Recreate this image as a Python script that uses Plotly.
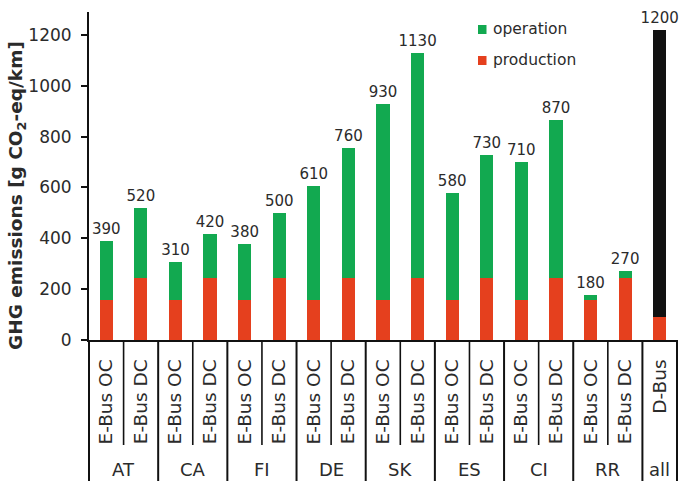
import plotly.graph_objects as go

# ---- data ----
groups = ["AT", "CA", "FI", "DE", "SK", "ES", "CI", "RR", "all"]
group_subs = [
    ["E-Bus OC", "E-Bus DC"], ["E-Bus OC", "E-Bus DC"], ["E-Bus OC", "E-Bus DC"],
    ["E-Bus OC", "E-Bus DC"], ["E-Bus OC", "E-Bus DC"], ["E-Bus OC", "E-Bus DC"],
    ["E-Bus OC", "E-Bus DC"], ["E-Bus OC", "E-Bus DC"], ["D-Bus"],
]
production = [157, 243, 157, 243, 157, 243, 157, 243, 157, 243, 157, 243, 157, 243, 157, 244, 92]
operation = [233, 277, 148, 175, 221, 257, 449, 513, 772, 887, 422, 485, 545, 624, 20, 26, 1126]
total_labels = ["390", "520", "310", "420", "380", "500", "610", "760", "930", "1130",
                "580", "730", "710", "870", "180", "270", "1200"]
y_ticks = [0, 200, 400, 600, 800, 1000, 1200]

GREEN = "#12a950"
RED = "#e5401e"
BLACK = "#111111"
FONT = "DejaVu Sans"
TXT = "#2b2b2b"

# category keys
keys, sub_names, group_of = [], [], []
for g, subs in zip(groups, group_subs):
    for s in subs:
        keys.append(f"{g}|{s}")
        sub_names.append(s)
        group_of.append(g)
n = len(keys)
op_colors = [BLACK if g == "all" else GREEN for g in group_of]

W, H = 679, 481
ml, mr, mt, mb = 89, 2, 12, 141
plot_h = H - mt - mb

fig = go.Figure()
fig.add_bar(x=keys, y=production, marker=dict(color=RED, line=dict(width=0)),
            name="production", showlegend=False)
fig.add_bar(x=keys, y=operation, marker=dict(color=op_colors, line=dict(width=0)),
            name="operation", showlegend=False,
            text=total_labels, textposition="outside", cliponaxis=False,
            constraintext="none",
            textfont=dict(family=FONT, size=15, color=TXT))

def py(px):  # pixel y (from top of figure) -> paper y
    return (H - mb - px) / plot_h

def pxx(px):  # pixel x -> paper x
    return (px - ml) / (W - ml - mr)

shapes = []
annotations = []
# table lines below the axis
for xb in (0, 1):
    shapes.append(dict(type="line", xref="paper", yref="paper", x0=xb, x1=xb,
                       y0=0, y1=py(H + 2), line=dict(color="#111", width=2)))
idx = 0
for gi, (g, subs) in enumerate(zip(groups, group_subs)):
    start = idx
    for si, s in enumerate(subs):
        if si < len(subs) - 1:
            xb = (idx + 1) / n
            shapes.append(dict(type="line", xref="paper", yref="paper", x0=xb, x1=xb,
                               y0=0, y1=py(445), line=dict(color="#111", width=1.6)))
        idx += 1
    end = idx
    annotations.append(dict(x=(start + end) / 2 / n, xref="paper", y=py(469), yref="paper",
                            text=g, showarrow=False, xanchor="center", yanchor="middle",
                            font=dict(family=FONT, size=18, color=TXT)))
    if gi < len(groups) - 1:
        xb = end / n
        shapes.append(dict(type="line", xref="paper", yref="paper", x0=xb, x1=xb,
                           y0=0, y1=py(H + 2), line=dict(color="#111", width=2)))

# y-axis title
annotations.append(dict(x=pxx(17), xref="paper", y=py(196), yref="paper",
                        text="<b>GHG emissions [g CO<sub>2</sub>-eq/km]</b>",
                        textangle=-90, showarrow=False, xanchor="center", yanchor="middle",
                        font=dict(family=FONT, size=18.5, color=TXT)))

# legend (drawn manually)
for name, col, cy in [("operation", GREEN, 29.5), ("production", RED, 60.5)]:
    shapes.append(dict(type="rect", xref="paper", yref="paper",
                       x0=pxx(478), x1=pxx(486.5), y0=py(cy - 4.5), y1=py(cy + 4.5),
                       fillcolor=col, line=dict(width=0)))
    annotations.append(dict(x=pxx(491), xref="paper", y=py(cy), yref="paper",
                            text=name, showarrow=False, xanchor="left", yanchor="middle",
                            font=dict(family=FONT, size=15.5, color=TXT)))

fig.update_layout(
    width=W, height=H,
    margin=dict(l=ml, r=mr, t=mt, b=mb),
    barmode="stack", bargap=0.62,
    plot_bgcolor="white", paper_bgcolor="white",
    showlegend=False,
    shapes=shapes, annotations=annotations,
    font=dict(family=FONT, color=TXT),
    xaxis=dict(type="category", categoryorder="array", categoryarray=keys,
               range=[-0.5, n - 0.5], tickmode="array", tickvals=keys, ticktext=sub_names,
               tickangle=-90, ticks="", ticklabelstandoff=10,
               tickfont=dict(family=FONT, size=18.5, color=TXT),
               showline=True, linecolor="#111", linewidth=2, showgrid=False,
               zeroline=False),
    yaxis=dict(range=[0, 1290], tickvals=y_ticks, ticks="outside", ticklen=6,
               tickwidth=1.5, tickcolor="#111", showline=True, linecolor="#111",
               linewidth=2, showgrid=False, zeroline=False, ticklabelstandoff=6,
               tickfont=dict(family=FONT, size=17, color=TXT)),
)

fig.write_html(
    "out.html",
    config={"displayModeBar": False},
    post_script="document.body.style.margin='0';document.body.style.overflow='hidden';",
)
